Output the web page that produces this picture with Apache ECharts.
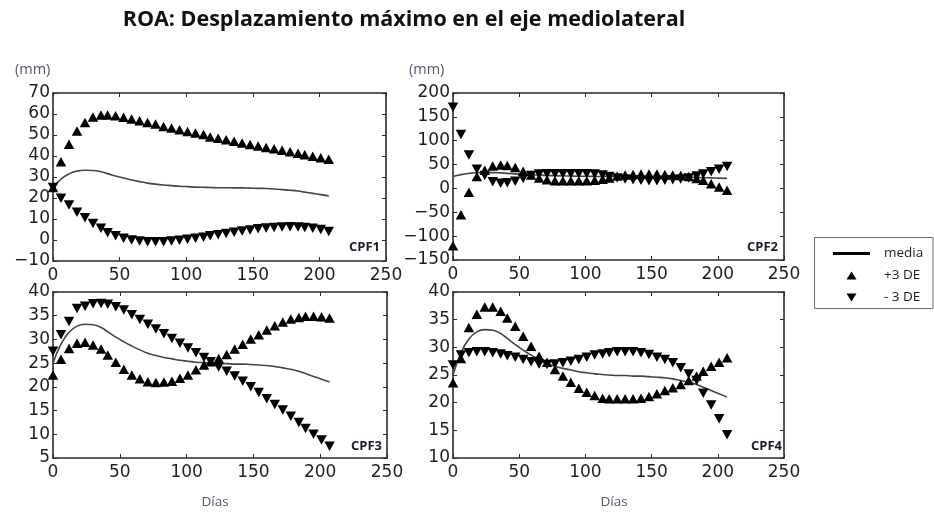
<!DOCTYPE html>
<html>
<head>
<meta charset="utf-8">
<script src="https://cdn.jsdelivr.net/npm/echarts@6/dist/echarts.min.js"></script>
<style>
  html, body { margin: 0; padding: 0; background: #ffffff; }
  #chart { width: 934px; height: 512px; }
</style>
</head>
<body>
<div id="chart"></div>
<script>
// Sampling days (x values shared by every panel)
const days = [0, 6, 12, 18, 24, 30, 36, 41, 47, 53, 59, 65, 71, 77, 83, 89, 95, 101,
              107, 113, 118, 124, 130, 136, 142, 148, 154, 160, 166, 172, 178, 184, 189, 195, 201, 207];

// Mean curve (mm)
const media = [25.0, 29.0, 31.5, 32.8, 33.2, 33.1, 32.5, 31.6, 30.5, 29.5, 28.6, 27.8,
               27.1, 26.6, 26.2, 25.9, 25.6, 25.4, 25.2, 25.1, 25.0, 24.9, 24.9, 24.8,
               24.8, 24.7, 24.6, 24.5, 24.3, 24.0, 23.7, 23.3, 22.8, 22.2, 21.6, 21.0];

// CPF1: mean +3 SD / -3 SD
const cpf1Plus = [25, 37.3, 45.6, 51.9, 56.0, 58.6, 59.5, 59.5, 59.2, 58.4, 57.6, 56.8,
                  56.0, 55.2, 54.1, 53.3, 52.5, 51.7, 50.9, 50.2, 49.1, 48.4, 47.7, 47.0,
                  46.2, 45.5, 44.8, 44.1, 43.4, 42.7, 42.0, 41.3, 40.6, 39.9, 39.2, 38.5];
const cpf1Minus = [25, 19.9, 16.7, 13.2, 10.6, 7.9, 5.6, 3.5, 2.0, 0.8, 0.0, -0.5,
                   -0.8, -0.8, -0.8, -0.5, -0.1, 0.3, 0.8, 1.3, 2.0, 2.5, 3.1, 3.7,
                   4.3, 4.8, 5.3, 5.7, 6.0, 6.2, 6.3, 6.2, 6.0, 5.6, 5.0, 4.1];

// CPF2
const cpf2Plus = [-120, -55, -8, 25, 38, 47, 49, 48, 44, 36, 28, 22,
                  18, 16, 16, 16, 16, 16, 17, 19, 22, 26, 28, 29,
                  30, 30, 30, 29, 28, 27, 25, 21, 17, 10, 3, -4];
const cpf2Minus = [170, 113, 70, 40, 27, 14, 11, 12, 15, 21, 27, 30,
                   31, 31, 31, 31, 31, 31, 30, 28, 25, 22, 20, 18,
                   17, 16, 16, 17, 18, 20, 22, 26, 30, 35, 40, 46];

// CPF3
const cpf3Plus = [22.5, 25.8, 28.1, 29.2, 29.4, 28.8, 28.0, 26.7, 25.2, 23.7, 22.5, 21.7,
                  21.1, 20.9, 21.0, 21.2, 21.8, 22.5, 23.6, 24.6, 25.3, 26.0, 26.8, 28.0,
                  29.0, 30.1, 31.0, 32.0, 32.9, 33.7, 34.3, 34.6, 34.9, 34.9, 34.8, 34.5];
const cpf3Minus = [27.5, 31.0, 33.8, 36.5, 37.0, 37.5, 37.6, 37.4, 36.9, 36.2, 35.2, 34.2,
                   33.2, 32.2, 31.2, 30.2, 29.2, 28.2, 27.2, 26.2, 25.3, 24.2, 23.3, 22.3,
                   21.2, 20.0, 18.8, 17.5, 16.3, 15.1, 13.8, 12.5, 11.2, 10.0, 8.8, 7.5];

// CPF4
const cpf4Plus = [23.6, 28.0, 33.6, 36.0, 37.3, 37.3, 36.5, 35.3, 33.8, 32.0, 30.2, 28.4,
                  27.3, 26.0, 24.8, 23.7, 22.6, 21.9, 21.3, 20.8, 20.7, 20.7, 20.7, 20.7,
                  20.8, 21.1, 21.6, 22.2, 22.7, 23.3, 24.0, 24.8, 25.7, 26.6, 27.3, 28.1];
const cpf4Minus = [26.8, 28.6, 29.0, 29.2, 29.2, 29.0, 28.8, 28.5, 28.2, 27.8, 27.4, 27.0,
                   26.9, 27.0, 27.2, 27.5, 27.8, 28.2, 28.6, 28.8, 29.0, 29.2, 29.2, 29.2,
                   29.0, 28.7, 28.2, 27.8, 27.2, 26.3, 25.2, 24.0, 21.7, 19.6, 17.1, 14.2];

// Axis ranges
const xTicks = { min: 0, max: 250, step: 50 };
const panelNames = ['CPF1', 'CPF2', 'CPF3', 'CPF4'];
const plusSets = [cpf1Plus, cpf2Plus, cpf3Plus, cpf4Plus];
const minusSets = [cpf1Minus, cpf2Minus, cpf3Minus, cpf4Minus];
const yRanges = [
  { min: -10, max: 70, step: 10 },
  { min: -150, max: 200, step: 50 },
  { min: 5, max: 40, step: 5 },
  { min: 10, max: 40, step: 5 }
];

// Layout of the four panels
const grids = [
  { left: 53, top: 93, width: 333, height: 168 },
  { left: 453, top: 93, width: 331, height: 167 },
  { left: 53, top: 292, width: 334, height: 166 },
  { left: 453, top: 292, width: 331, height: 166 }
];
const tagPos = [[380, 247], [778, 247], [382, 446], [782, 446]];

const INK = '#1e1e1e';
const frameLine = { show: true, onZero: false, lineStyle: { color: '#2a2a2a', width: 1.6 } };
const innerTick = { show: true, inside: true, length: 4, lineStyle: { color: '#2a2a2a', width: 1 } };
const tickFont = { fontFamily: 'DejaVu Sans', fontSize: 17, color: INK };
const minusSign = v => String(v).replace('-', '\u2212');
const markSize = [10.5, 9.5];

const xAxes = [], yAxes = [], series = [];
grids.forEach((g, i) => {
  const yr = yRanges[i];
  xAxes.push({
    gridIndex: i, type: 'value', position: 'bottom',
    min: xTicks.min, max: xTicks.max, interval: xTicks.step,
    axisLine: frameLine, axisTick: innerTick, splitLine: { show: false },
    axisLabel: Object.assign({ margin: 6, formatter: minusSign }, tickFont)
  });
  xAxes.push({
    gridIndex: i, type: 'value', position: 'top',
    min: xTicks.min, max: xTicks.max, interval: xTicks.step,
    axisLine: frameLine, axisTick: innerTick, splitLine: { show: false },
    axisLabel: { show: false }
  });
  yAxes.push({
    gridIndex: i, type: 'value', position: 'left',
    min: yr.min, max: yr.max, interval: yr.step,
    axisLine: frameLine, axisTick: innerTick, splitLine: { show: false },
    axisLabel: Object.assign({ margin: 3, formatter: minusSign }, tickFont)
  });
  yAxes.push({
    gridIndex: i, type: 'value', position: 'right',
    min: yr.min, max: yr.max, interval: yr.step,
    axisLine: frameLine, axisTick: innerTick, splitLine: { show: false },
    axisLabel: { show: false }
  });

  series.push({
    name: 'media', type: 'line', xAxisIndex: 2 * i, yAxisIndex: 2 * i,
    data: days.map((d, k) => [d, media[k]]),
    smooth: true, showSymbol: false, z: 2, silent: true,
    itemStyle: { color: '#444444' },
    lineStyle: { color: '#444444', width: 1.6 }
  });
  series.push({
    name: '+3 DE', type: 'scatter', xAxisIndex: 2 * i, yAxisIndex: 2 * i,
    data: days.map((d, k) => [d, plusSets[i][k]]),
    symbol: 'triangle', symbolSize: markSize, z: 3, silent: true,
    itemStyle: { color: '#000000', opacity: 1 }
  });
  series.push({
    name: '- 3 DE', type: 'scatter', xAxisIndex: 2 * i, yAxisIndex: 2 * i,
    data: days.map((d, k) => [d, minusSets[i][k]]),
    symbol: 'triangle', symbolRotate: 180, symbolSize: markSize, z: 3, silent: true,
    itemStyle: { color: '#000000', opacity: 1 }
  });
});

const softText = '#4f5870';
const graphics = [
  { type: 'text', z: 10,
    style: { text: 'ROA: Desplazamiento máximo en el eje mediolateral', x: 404, y: 20,
             align: 'center', verticalAlign: 'middle',
             font: 'bold 21.5px "Open Sans"', fill: '#111111' } },
  { type: 'text', style: { text: '(mm)', x: 15, y: 70, verticalAlign: 'middle',
             font: '14.5px "Open Sans"', fill: softText } },
  { type: 'text', style: { text: '(mm)', x: 409, y: 70, verticalAlign: 'middle',
             font: '14.5px "Open Sans"', fill: softText } },
  { type: 'text', style: { text: 'Días', x: 215, y: 502, align: 'center', verticalAlign: 'middle',
             font: '13.5px "Open Sans"', fill: softText } },
  { type: 'text', style: { text: 'Días', x: 614, y: 502, align: 'center', verticalAlign: 'middle',
             font: '13.5px "Open Sans"', fill: softText } },
  { type: 'rect', shape: { x: 814.5, y: 237.5, width: 118.5, height: 71 },
    style: { fill: '#ffffff', stroke: '#666666', lineWidth: 1 }, z: 0 }
];
panelNames.forEach((n, i) => {
  graphics.push({ type: 'text', z: 10, style: { text: n, x: tagPos[i][0], y: tagPos[i][1],
    align: 'right', verticalAlign: 'middle', font: 'bold 13px "Open Sans"', fill: '#1b1b2b' } });
});

const chart = echarts.init(document.getElementById('chart'), null, { renderer: 'canvas' });
chart.setOption({
  animation: false,
  backgroundColor: '#ffffff',
  grid: grids.map(g => Object.assign({ containLabel: false }, g)),
  xAxis: xAxes,
  yAxis: yAxes,
  legend: {
    orient: 'vertical', left: 828, top: 241.5, itemWidth: 37, itemHeight: 8, itemGap: 8,
    selectedMode: false, z: 20,
    textStyle: { fontFamily: 'Open Sans', fontSize: 13.5, color: INK, lineHeight: 14, padding: [0, 0, 0, 9] },
    data: [
      { name: 'media', icon: 'path://M0,0L37,0L37,3L0,3Z', itemStyle: { color: '#000000' } },
      { name: '+3 DE', icon: 'path://M5,0L10,8L0,8Z', itemStyle: { color: '#000000' } },
      { name: '- 3 DE', icon: 'path://M0,0L10,0L5,8Z', itemStyle: { color: '#000000' } }
    ]
  },
  graphic: graphics,
  series: series
});
</script>
</body>
</html>
